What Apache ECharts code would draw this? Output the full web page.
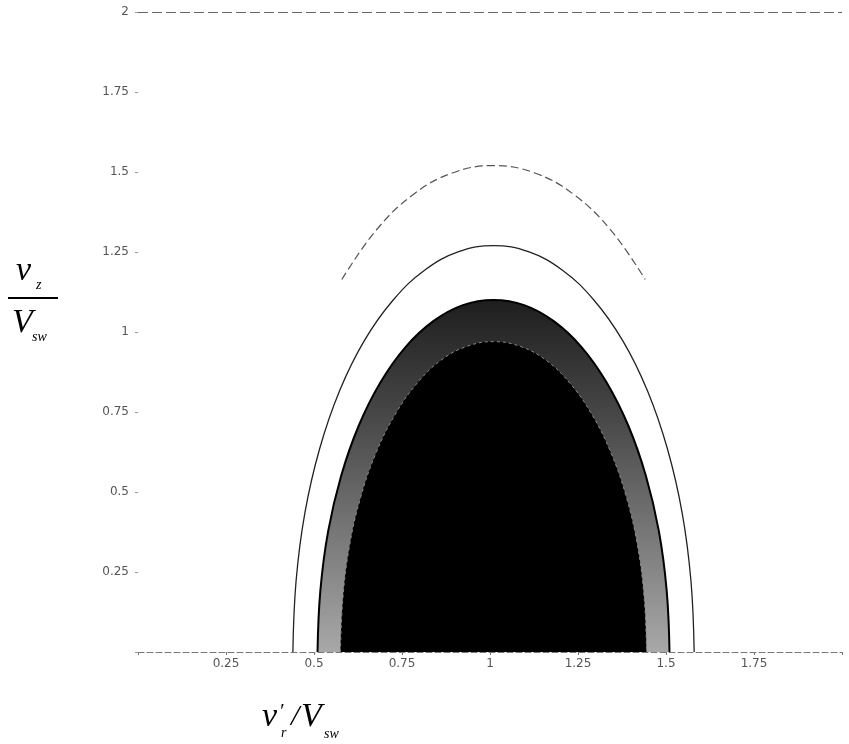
<!DOCTYPE html>
<html>
<head>
<meta charset="utf-8">
<script src="https://cdn.jsdelivr.net/npm/echarts@6/dist/echarts.min.js"></script>
<style>
  html, body { margin: 0; padding: 0; background: #fff; }
  #chart { width: 849px; height: 744px; }
</style>
</head>
<body>
<div id="chart"></div>
<script>
// Axis ticks
const xTicks = ['0.25', '0.5', '0.75', '1', '1.25', '1.5', '1.75'];
const yTicks = ['0.25', '0.5', '0.75', '1', '1.25', '1.5', '1.75', '2'];

// Contour curves in (v'_r / V_sw, v_z / V_sw), traced left to right
const outerContour = [
  [0.579, 1.164], [0.675, 1.316], [0.781, 1.429], [0.893, 1.497], [1.01, 1.52],
  [1.127, 1.497], [1.239, 1.429], [1.345, 1.316], [1.441, 1.164]
];
const middleContour = [
  [0.44, 0], [0.449, 0.221], [0.474, 0.434], [0.516, 0.635], [0.573, 0.817],
  [0.643, 0.973], [0.725, 1.1], [0.815, 1.194], [0.911, 1.251], [1.01, 1.27],
  [1.109, 1.251], [1.205, 1.194], [1.295, 1.1], [1.377, 0.973], [1.447, 0.817],
  [1.504, 0.635], [1.546, 0.434], [1.571, 0.221], [1.58, 0]
];
const bandContour = [
  [0.51, 0], [0.518, 0.191], [0.54, 0.376], [0.577, 0.55], [0.627, 0.707],
  [0.689, 0.843], [0.76, 0.953], [0.839, 1.034], [0.923, 1.084], [1.01, 1.1],
  [1.097, 1.084], [1.181, 1.034], [1.26, 0.953], [1.331, 0.843], [1.393, 0.707],
  [1.443, 0.55], [1.48, 0.376], [1.502, 0.191], [1.51, 0]
];
const coreContour = [
  [0.575, 0], [0.582, 0.168], [0.601, 0.332], [0.633, 0.485], [0.677, 0.624],
  [0.731, 0.743], [0.793, 0.84], [0.861, 0.912], [0.934, 0.955], [1.01, 0.97],
  [1.086, 0.955], [1.159, 0.912], [1.227, 0.84], [1.289, 0.743], [1.343, 0.624],
  [1.387, 0.485], [1.419, 0.332], [1.438, 0.168], [1.445, 0]
];

const chart = echarts.init(document.getElementById('chart'), null, { renderer: 'canvas' });

const tickFont = { color: '#555', fontSize: 12, fontFamily: 'DejaVu Sans' };
const mathFont = 'Liberation Serif';

function fmt(v) { return String(Math.round(v * 100) / 100); }

const option = {
  animation: false,
  backgroundColor: '#fff',
  grid: { left: 138, right: 7, top: 12, bottom: 92 },
  xAxis: {
    type: 'value', min: 0, max: 2, interval: 0.25,
    axisLine: { show: true, onZero: true, lineStyle: { color: '#777', width: 1, type: [6, 3] } },
    axisTick: { show: true, length: 3, lineStyle: { color: '#777' } },
    splitLine: { show: false },
    axisLabel: {
      ...tickFont, margin: 6,
      formatter: v => (xTicks.includes(fmt(v)) ? fmt(v) : '')
    }
  },
  yAxis: {
    type: 'value', min: 0, max: 2, interval: 0.25,
    axisLine: { show: false },
    axisTick: { show: true, length: 3, lineStyle: { color: '#999' } },
    splitLine: { show: false },
    axisLabel: {
      ...tickFont, margin: 9,
      formatter: v => (yTicks.includes(fmt(v)) ? fmt(v) : '')
    }
  },
  series: [
    {
      // upper boundary of the plotted region
      type: 'line', data: [], silent: true,
      markLine: {
        symbol: 'none', silent: true, label: { show: false },
        lineStyle: { color: '#666', width: 1.2, type: [10, 4] },
        data: [{ yAxis: 2 }]
      }
    },
    {
      name: 'outer', type: 'line', data: outerContour, smooth: 0.4, showSymbol: false,
      lineStyle: { color: '#555', width: 1.2, type: [8, 4] }, z: 3
    },
    {
      name: 'middle', type: 'line', data: middleContour, smooth: 0.4, showSymbol: false,
      lineStyle: { color: '#222', width: 1.3 }, z: 3
    },
    {
      name: 'band', type: 'line', data: bandContour, smooth: 0.4, showSymbol: false,
      lineStyle: { color: '#000', width: 2 },
      areaStyle: {
        opacity: 1,
        color: {
          type: 'linear', x: 0, y: 0, x2: 0, y2: 1,
          colorStops: [
            { offset: 0, color: '#1e1e1e' },
            { offset: 0.35, color: '#4a4a4a' },
            { offset: 1, color: '#a8a8a8' }
          ]
        }
      },
      z: 2
    },
    {
      name: 'core', type: 'line', data: coreContour, smooth: 0.4, showSymbol: false,
      lineStyle: { color: '#8a8a8a', width: 1, type: [3, 3] },
      areaStyle: { color: '#000', opacity: 1 },
      z: 4
    }
  ],
  graphic: [
    // vertical axis title: v_z over V_sw
    { type: 'text', left: 16, top: 254, style: { text: 'v', font: 'italic 34px ' + mathFont, fill: '#000' } },
    { type: 'text', left: 36, top: 278, style: { text: 'z', font: 'italic 14px ' + mathFont, fill: '#000' } },
    { type: 'rect', shape: { x: 8, y: 297, width: 50, height: 2 }, style: { fill: '#000' } },
    { type: 'text', left: 12, top: 306, style: { text: 'V', font: 'italic 34px ' + mathFont, fill: '#000' } },
    { type: 'text', left: 32, top: 330, style: { text: 'sw', font: 'italic 14px ' + mathFont, fill: '#000' } },
    // horizontal axis title: v'_r / V_sw
    { type: 'text', left: 262, top: 700, style: { text: 'v', font: 'italic 34px ' + mathFont, fill: '#000' } },
    { type: 'text', left: 279, top: 703, style: { text: '′', font: 'italic 20px ' + mathFont, fill: '#000' } },
    { type: 'text', left: 281, top: 726, style: { text: 'r', font: 'italic 14px ' + mathFont, fill: '#000' } },
    { type: 'text', left: 291, top: 702, style: { text: '/', font: 'italic 30px ' + mathFont, fill: '#000' } },
    { type: 'text', left: 301, top: 700, style: { text: 'V', font: 'italic 34px ' + mathFont, fill: '#000' } },
    { type: 'text', left: 324, top: 727, style: { text: 'sw', font: 'italic 14px ' + mathFont, fill: '#000' } }
  ]
};

chart.setOption(option);
</script>
</body>
</html>
